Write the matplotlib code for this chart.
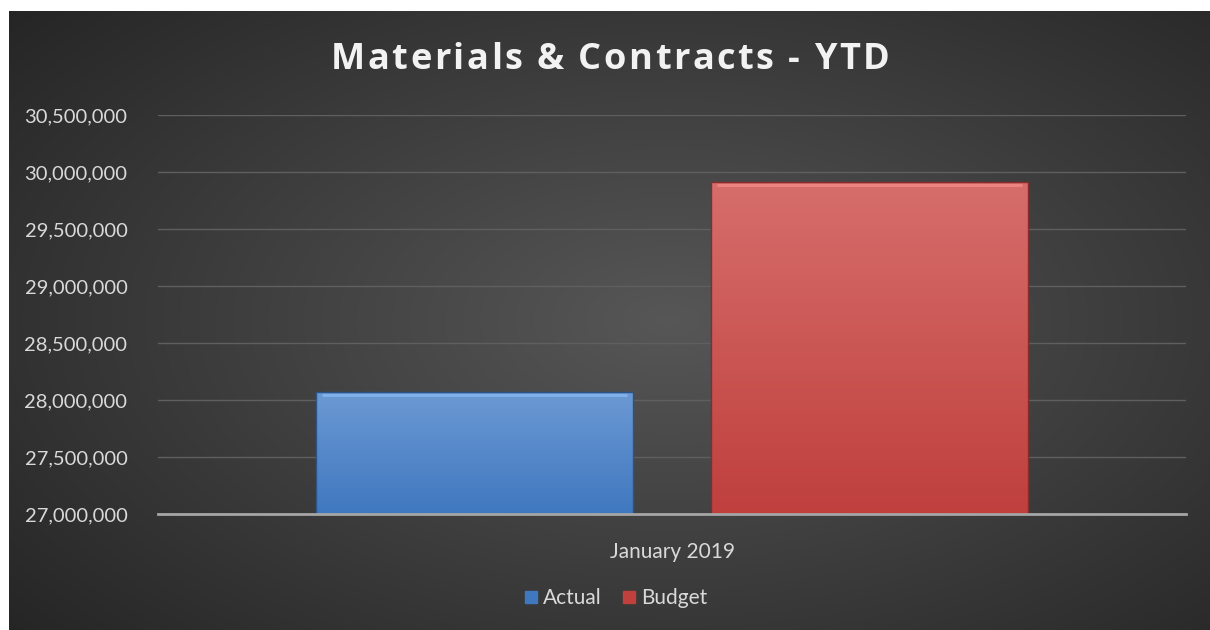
import matplotlib.pyplot as plt
import numpy as np
from matplotlib.ticker import FuncFormatter
from matplotlib.patches import Rectangle
from matplotlib.lines import Line2D

# data
categories = ["January 2019"]
series_names = ["Actual", "Budget"]
actual = [28070000]
budget = [29915000]
y_ticks = [27000000, 27500000, 28000000, 28500000, 29000000, 29500000, 30000000, 30500000]
title = "Materials & Contracts - YTD"

TEXT = "#d9d9d9"
BLUE_TOP, BLUE_BOT = np.array([0.42, 0.60, 0.83]), np.array([0.25, 0.47, 0.75])
RED_TOP, RED_BOT = np.array([0.84, 0.43, 0.42]), np.array([0.75, 0.25, 0.24])

plt.rcParams["font.family"] = ["Lato", "DejaVu Sans"]

fig = plt.figure(figsize=(12.1, 6.3), dpi=100, facecolor="white")

# radial gradient background (dark chart area with white margin top/left)
bg = fig.add_axes([9 / 1210, 0, 1201 / 1210, 619 / 630])
bg.set_axis_off()
yy, xx = np.mgrid[0:1:300j, 0:1:600j]
r = np.sqrt(((xx - 0.55) / 0.75) ** 2 + ((yy - 0.5) / 0.8) ** 2)
shade = 0.34 - 0.20 * np.clip(r, 0, 1)
bg.imshow(np.dstack([shade] * 3), aspect="auto", extent=(0, 1, 0, 1), interpolation="bilinear")
bg.set_xlim(0, 1)
bg.set_ylim(0, 1)

ax = fig.add_axes([158 / 1210, 116 / 630, 1028 / 1210, 399 / 630])
ax.set_facecolor("none")
ax.set_ylim(27000000, 30500000)
ax.set_xlim(-0.5, 0.5)
ax.set_yticks(y_ticks)
ax.yaxis.set_major_formatter(FuncFormatter(lambda v, p: f"{v:,.0f}"))
ax.tick_params(axis="y", length=0, pad=22, labelsize=14.5, labelcolor=TEXT)
ax.set_xticks([0])
ax.set_xticklabels(categories)
ax.tick_params(axis="x", length=0, pad=20, labelsize=15, labelcolor=TEXT)
ax.grid(axis="y", color="#5f5f5f", linewidth=1)
ax.set_axisbelow(True)
for s in ["top", "right", "left"]:
    ax.spines[s].set_visible(False)
ax.spines["bottom"].set_color("#a6a6a6")
ax.spines["bottom"].set_linewidth(2)
ax.spines["bottom"].set_zorder(5)

width = 0.308
offsets = [-0.192, 0.192]
colors = [(BLUE_TOP, BLUE_BOT), (RED_TOP, RED_BOT)]
for vals, off, (top, bot) in zip([actual, budget], offsets, colors):
    for i, v in enumerate(vals):
        x0 = i + off - width / 2
        rect = Rectangle((x0, 27000000), width, v - 27000000, facecolor="none",
                         edgecolor=bot * 0.7, linewidth=1, zorder=4)
        ax.add_patch(rect)
        t = np.linspace(0, 1, 100)[:, None]
        grad = top[None, :] * (1 - t) + bot[None, :] * t
        im = ax.imshow(grad[:, None, :], aspect="auto", extent=(x0, x0 + width, 27000000, v),
                       zorder=3, interpolation="bilinear")
        im.set_clip_path(rect)
        # bevel highlight along the top edge
        ax.plot([x0 + 0.006, x0 + width - 0.006], [v - 25000, v - 25000],
                color=np.clip(top + 0.12, 0, 1), linewidth=2, alpha=0.8, zorder=4,
                solid_capstyle="butt")
ax.set_xlim(-0.5, 0.5)
ax.set_ylim(27000000, 30500000)

# letter-spaced title: place the characters one by one
renderer = fig.canvas.get_renderer()
tkw = dict(fontsize=26, fontweight="bold", color="#f2f2f2", family=["Open Sans", "DejaVu Sans"],
           va="center", ha="left")
spacing = 2.5  # extra px between letters
chars = []
for ch in title:
    t = fig.text(0, 0, ch if ch != " " else "\u00a0", **tkw)
    w = t.get_window_extent(renderer).width
    if ch == " ":
        w = fig.text(0, 0, "a a", **tkw).get_window_extent(renderer).width - \
            fig.text(0, 0, "aa", **tkw).get_window_extent(renderer).width
        for extra in fig.texts[-2:]:
            extra.remove()
    chars.append((t, w))
total = sum(w for _, w in chars) + spacing * (len(chars) - 1)
x = 610 - total / 2
for t, w in chars:
    t.set_position((x / 1210, 1 - 60 / 630))
    x += w + spacing

handles = [Line2D([], [], marker="s", linestyle="none", markersize=9,
                  markerfacecolor=c[1], markeredgecolor=c[1]) for c in colors]
fig.legend(handles, series_names, loc="center", bbox_to_anchor=(614 / 1210, 1 - 598 / 630),
           ncol=2, frameon=False, fontsize=15, labelcolor=TEXT, handletextpad=0.1,
           columnspacing=0.8, handlelength=1.0)

fig.savefig("out.png", dpi=100, facecolor=fig.get_facecolor())
